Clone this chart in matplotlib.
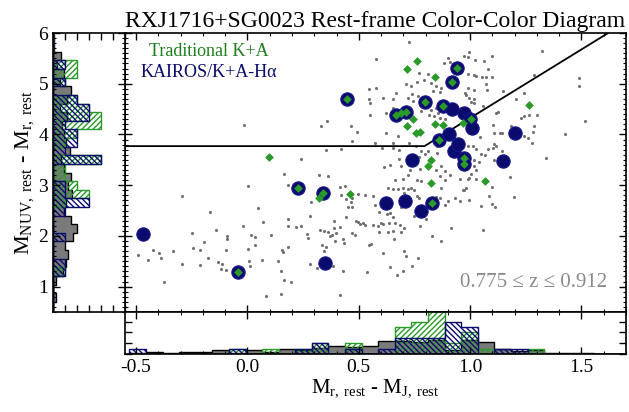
import numpy as np
import matplotlib.pyplot as plt
from matplotlib.ticker import MultipleLocator

plt.rcParams['font.family'] = 'Liberation Serif'
plt.rcParams['mathtext.fontset'] = 'custom'
plt.rcParams['mathtext.rm'] = 'Liberation Serif'
plt.rcParams['mathtext.it'] = 'Liberation Serif:italic'
plt.rcParams['axes.unicode_minus'] = False
plt.rcParams['hatch.linewidth'] = 1.0

# --- full sample (gray points): M_r - M_J, M_NUV - M_r ---
all_x = [
    -0.014,
    0.724, 0.578, 0.900, 0.882, 0.908, 0.922, 0.770, 0.810,
    0.713, 0.735, 0.761, 0.791, 0.825, 0.848, 0.870, 0.833, 0.863,
    0.740, 0.765, 0.720, 0.742, 0.546, 0.576, 0.546, 0.552,
    0.609, 0.653, 0.665, 0.549, 0.623, 0.653,
    0.780, 0.815, 0.825, 0.848, 0.817, 0.840, 0.863, 0.885, 0.855,
    0.331, 0.357, 0.466, 0.493, 0.471,
    0.571, 0.623, 0.653, 0.680, 0.677, 0.354, 0.421, 0.605, 0.653,
    0.725, 0.758, 0.780, 0.796, 0.770, 0.811, 0.851, 0.851, 0.242,
    0.612, 0.639, 0.680, 0.691, 0.728, 0.773, 0.848, 0.870, 0.885,
    0.996, 0.974, 0.989, 1.022, 1.061, 1.097, 1.321,
    1.081, 0.989, 1.018, 1.026, 1.052, 1.071, 1.097, 1.285, 1.490, 1.490,
    1.071, 0.989, 1.018, 0.977, 0.981, 1.075, 1.146, 1.243,
    0.996, 1.016, 1.004, 1.019, 1.206, 1.056,
    1.116, 1.126, 1.243, 1.265, 1.300, 1.228, 1.517,
    1.101, 1.183, 1.285, 1.108, 1.135, 1.141, 1.281, 1.427,
    1.045, 1.243, 1.261, 1.276, 1.108, 1.116, 1.101, 1.079, 1.011, 1.026, 0.989,
    1.141, 1.048, 1.066, 1.340, 1.018, 1.041, 1.108, 1.018, 1.026,
    -0.295, 0.004, 0.183, 0.164, -0.168, 0.049,
    -0.248, -0.143, -0.093, -0.091, -0.019, 0.016, 0.034, 0.071, 0.106, 0.183, 0.183,
    -0.493, -0.445, -0.423, -0.396, -0.388, -0.333, -0.295, -0.243, -0.213, -0.194,
    -0.176, -0.134, -0.116, -0.095, -0.120, -0.097, -0.215, 0.004, 0.007, 0.010,
    0.034, 0.066, 0.136, 0.154, 0.161, 0.183, 0.150, 0.165, 0.194, 0.150, 0.082, -0.374,
    0.321, 0.361, 0.661, 0.698, 0.720, 0.761, 0.780, 0.863, 0.885, 0.911, 0.953,
    0.414, 0.436, 0.496, 0.526, 0.563, 0.421, 0.444, 0.470, 0.631, 0.653, 0.676,
    0.698, 0.720, 0.735, 0.750, 0.705, 0.761, 0.770, 0.870, 0.845, 0.863, 0.930,
    0.953, 0.900, 0.885, 0.833, 0.848, 0.803, 0.750, 0.800, 0.571, 0.466, 0.451,
    0.470, 0.593, 0.628, 0.638, 0.653, 0.691, 0.661, 0.286, 0.282, 0.219, 0.241,
    0.387, 0.441, 0.417, 0.387, 0.488, 0.496, 0.506, 0.518, 0.530, 0.563, 0.586,
    0.611, 0.601, 0.635, 0.686, 0.702, 0.773, 0.915, 0.324, 0.346, 0.361, 0.381,
    0.396, 0.369, 0.267, 0.271, 0.391, 0.429, 0.433, 0.470, 0.481, 0.556, 0.545,
    0.590, 0.631, 0.653, 0.656, 0.691, 0.830, 0.870, 0.336, 0.354, 0.346, 0.608,
    0.705, 0.713, 0.765, 0.282, 0.312, 0.384, 0.429, 0.536, 0.638, 0.671, 0.698,
    0.740, 0.417,
    1.004, 1.027, 0.989, 0.997, 0.981, 0.974, 0.967, 1.180, 1.098, 1.087, 1.199,
    0.993, 1.049, 1.097, 1.114, 1.057,
]
all_y = [
    4.18,
    5.82, 5.49, 5.51, 5.41, 5.42, 5.39, 5.22, 5.20,
    5.00, 4.95, 5.03, 5.08, 5.01, 4.95, 4.92, 4.85, 4.83,
    4.80, 4.76, 4.72, 4.65, 4.90, 4.92, 4.70, 4.62,
    4.72, 4.70, 4.82, 4.39, 4.42, 4.52,
    4.46, 4.59, 4.49, 4.52, 4.39, 4.36, 4.32, 4.30, 4.42,
    4.17, 4.26, 4.16, 4.04, 3.88,
    3.84, 4.03, 3.83, 3.70, 3.97, 3.70, 3.71, 3.73, 3.73,
    3.83, 3.77, 3.67, 3.62, 3.55, 3.67, 3.77, 3.63, 3.52,
    3.35, 3.40, 3.52, 3.37, 3.30, 3.32, 3.30, 3.37, 3.27,
    5.62, 5.54, 5.53, 5.47, 5.44, 5.54, 5.64,
    5.29, 5.20, 5.18, 5.16, 5.13, 5.13, 5.13, 5.18, 5.11, 4.95,
    5.00, 4.92, 4.88, 4.82, 4.78, 4.87, 4.85, 4.82,
    4.72, 4.70, 4.63, 4.62, 4.70, 4.57,
    4.42, 4.44, 4.36, 4.39, 4.39, 4.32, 4.26,
    4.19, 4.16, 4.16, 4.03, 4.03, 4.03, 4.04, 4.01,
    3.95, 3.96, 3.93, 3.84, 3.82, 3.77, 3.73, 3.71, 3.78, 3.71, 3.77,
    3.67, 3.62, 3.60, 3.53, 3.50, 3.45, 3.50, 3.38, 3.29,
    2.79, 2.98, 3.01, 3.22, 2.48, 2.56,
    2.06, 2.12, 2.00, 1.94, 2.20, 2.02, 1.98, 2.27, 2.02, 2.33, 2.19,
    1.63, 1.52, 1.72, 1.66, 1.57, 1.70, 1.45, 1.77, 1.73, 1.88,
    1.56, 1.48, 1.44, 1.72, 1.35, 1.33, 1.42, 1.75, 1.50, 1.40,
    1.83, 1.53, 1.50, 1.72, 1.68, 1.78, 1.30, 1.13, 1.09, 0.85, 0.82, 1.10,
    3.206, 3.173, 3.108, 3.121, 3.206, 3.108, 3.075, 3.173, 3.094, 3.206, 3.121,
    2.963, 2.976, 2.832, 2.812, 2.792, 2.812, 2.726, 2.746, 2.943, 2.924, 2.924,
    2.943, 2.924, 2.943, 2.897, 2.845, 2.779, 2.746, 2.943, 2.766, 2.746, 2.746,
    2.680, 2.680, 2.615, 2.595, 2.582, 2.529, 2.385, 2.339, 2.601, 2.661, 2.562,
    2.562, 2.463, 2.437, 2.450, 2.371, 2.569, 2.253, 2.661, 2.398, 2.174, 2.200,
    2.299, 2.371, 2.174, 2.154, 2.299, 2.266, 2.240, 2.253, 2.220, 2.220, 2.187,
    2.240, 2.253, 2.253, 2.207, 2.154, 2.187, 2.154, 2.108, 2.102, 2.069, 2.010,
    2.056, 1.990, 2.036, 1.957, 1.892, 1.938, 1.859, 2.056, 2.023, 1.846, 1.826,
    2.069, 2.069, 2.089, 1.938, 2.069, 2.003, 1.892, 1.826, 1.780, 1.694, 1.661,
    1.707, 1.596, 1.563, 1.451, 1.366, 1.399, 1.300, 1.280, 1.379, 1.234, 1.300,
    1.412, 0.840,
    3.219, 3.121, 3.121, 3.140, 2.943, 2.910, 2.897, 3.154, 2.963, 2.792, 2.759,
    2.713, 2.582, 2.634, 2.562, 2.109,
]

# --- KAIROS / K+A-Halpha sample ---
kairos_x = [-0.471, -0.043, 0.225, 0.340, 0.348, 0.448, 0.668, 0.710, 0.621,
            0.707, 0.737, 0.779, 0.797, 0.827, 0.861, 0.878, 0.905, 0.918,
            0.919, 0.941, 0.927, 0.947, 0.972, 0.999, 1.007, 0.972, 0.972,
            1.146, 1.203]
kairos_y = [2.045, 1.282, 2.939, 2.854, 1.460, 4.708, 4.389, 4.448, 2.643,
            2.686, 3.495, 2.489, 4.633, 2.657, 3.886, 4.566, 4.018, 4.511,
            5.028, 5.310, 3.679, 3.811, 4.416, 4.298, 4.132, 3.544, 3.426,
            3.485, 4.024]

# --- traditional K+A sample ---
ka_x = [0.097, 0.225, 0.340, 0.323, 0.462, -0.043, 0.448, 0.668, 0.689,
        0.710, 0.717, 0.763, 0.843, 0.797, 0.878, 0.919, 0.941, 0.745,
        0.718, 0.756, 0.777, 0.841, 0.880, 0.861, 0.966, 1.003, 0.825,
        0.811, 0.823, 0.827, 0.972, 0.972, 1.069, 1.263]
ka_y = [3.548, 2.939, 2.854, 2.740, 2.824, 1.282, 4.708, 4.389, 4.418,
        4.448, 5.286, 5.444, 5.126, 4.633, 4.566, 5.028, 5.310, 4.310,
        4.162, 4.024, 4.043, 4.215, 4.189, 3.886, 4.225, 4.300, 3.505,
        3.377, 3.051, 2.657, 3.544, 3.426, 3.091, 4.586]

# selection boundary
cut_x = [-0.55, 0.795, 1.62]
cut_y = [3.77, 3.77, 6.0]

navy = '#0b0b6e'
green = '#2a9a2a'
gray = '#707070'

all_x = np.array(all_x); all_y = np.array(all_y)
w_all = np.full(len(all_x), len(kairos_x) / len(all_x))
bins_x = np.arange(-0.53, 1.8, 0.0745)
bins_y = np.arange(0.53, 6.2, 0.17)

fig = plt.figure(figsize=(6.29, 4.12), dpi=100)
ax = fig.add_axes([0.1987, 0.2427, 0.7965, 0.6772])
axl = fig.add_axes([0.0843, 0.2427, 0.1145, 0.6772])
axb = fig.add_axes([0.1987, 0.1408, 0.7965, 0.1019])

# main panel
ax.scatter(all_x, all_y, s=5, c=gray, lw=0, zorder=2)
ax.plot(cut_x, cut_y, color='black', lw=1.3, zorder=2)
ax.scatter(kairos_x, kairos_y, s=92, c=navy, edgecolors='#16168a', lw=0.8, zorder=3)
ax.scatter(ka_x, ka_y, s=20, marker='D', c=green, lw=0, zorder=4)
ax.set_xlim(-0.55, 1.70)
ax.set_ylim(0.5, 6.0)
ax.xaxis.set_major_locator(MultipleLocator(0.5))
ax.xaxis.set_minor_locator(MultipleLocator(0.1))
ax.yaxis.set_major_locator(MultipleLocator(1))
ax.yaxis.set_minor_locator(MultipleLocator(0.1))
ax.tick_params(which='both', direction='in', top=True, right=True,
               labelbottom=False, labelleft=False)
ax.set_title('RXJ1716+SG0023 Rest-frame Color-Color Diagram', fontsize=17, pad=4)
ax.text(0.168, 0.932, 'Traditional K+A', color='#1f7f1f', fontsize=13,
        ha='center', va='center', transform=ax.transAxes)
ax.text(0.168, 0.857, 'KAIROS/K+A-H\u03b1', color=navy, fontsize=13,
        ha='center', va='center', transform=ax.transAxes)
ax.text(0.963, 0.105, '0.775 \u2264 z \u2264 0.912', color='#8a8a8a', fontsize=15,
        ha='right', va='center', transform=ax.transAxes)

# left histogram
axl.hist(all_y, bins=bins_y, weights=w_all, orientation='horizontal',
         histtype='stepfilled', facecolor='#7a7a7a', edgecolor='black', lw=1)
axl.hist(ka_y, bins=bins_y, orientation='horizontal', histtype='stepfilled',
         facecolor='none', edgecolor=green, hatch='//////', lw=1)
axl.hist(kairos_y, bins=bins_y, orientation='horizontal', histtype='stepfilled',
         facecolor='none', edgecolor=navy, hatch='\\\\\\\\\\\\', lw=1)
axl.set_xlim(0, 6)
axl.set_ylim(0.5, 6.0)
axl.xaxis.set_major_locator(MultipleLocator(1))
axl.yaxis.set_major_locator(MultipleLocator(1))
axl.yaxis.set_minor_locator(MultipleLocator(0.1))
axl.tick_params(which='both', direction='in', top=True, right=True,
                labelbottom=False, labelsize=14)
axl.set_ylabel(r'M$_{\mathrm{NUV,\ rest}}$ - M$_{\mathrm{r,\ rest}}$', fontsize=16, labelpad=2)

# bottom histogram
axb.hist(all_x, bins=bins_x, weights=w_all, histtype='stepfilled',
         facecolor='#7a7a7a', edgecolor='black', lw=1)
axb.hist(ka_x, bins=bins_x, histtype='stepfilled', facecolor='none',
         edgecolor=green, hatch='//////', lw=1)
axb.hist(kairos_x, bins=bins_x, histtype='stepfilled', facecolor='none',
         edgecolor=navy, hatch='\\\\\\\\\\\\', lw=1)
axb.set_xlim(-0.55, 1.70)
axb.set_ylim(0, 7.8)
axb.xaxis.set_major_locator(MultipleLocator(0.5))
axb.xaxis.set_minor_locator(MultipleLocator(0.1))
axb.yaxis.set_major_locator(MultipleLocator(2))
axb.tick_params(which='both', direction='in', top=True, right=True,
                labelleft=False, labelsize=14)
axb.set_xlabel(r'M$_{\mathrm{r,\ rest}}$ - M$_{\mathrm{J,\ rest}}$', fontsize=15, labelpad=1)

for a in (ax, axl, axb):
    a.tick_params(which='major', length=5, width=1)
    a.tick_params(which='minor', length=2.5, width=0.8)
    for sp in a.spines.values():
        sp.set_linewidth(1.2)

fig.savefig('out.png', dpi=100)
